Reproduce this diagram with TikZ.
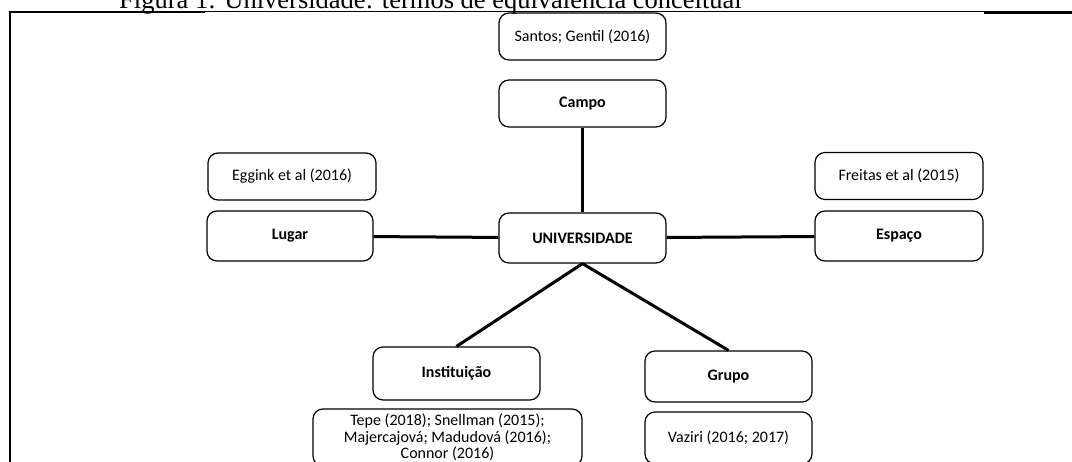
\documentclass[tikz,border=0pt]{standalone}
\usepackage{fontspec}
\setmainfont{Carlito}
\newfontfamily\titlefont{Liberation Serif}
\usepackage{tikz}

\tikzset{
  termo/.style={rectangle, rounded corners=10pt, draw, line width=1.2pt, minimum width=167pt, minimum height=50pt, font=\fontsize{16}{19}\selectfont\bfseries},
  autor/.style={rectangle, rounded corners=10pt, draw, line width=1.2pt, minimum width=167pt, minimum height=47pt, font=\fontsize{16}{19}\selectfont, align=center},
  liga/.style={line width=3pt}
}

\begin{document}
\begin{tikzpicture}[x=1pt, y=-1pt]
        \useasboundingbox (0, 0) rectangle (1072, 461);
        \clip (0, 0) rectangle (1072, 461);

        % titulo e moldura
        \node[anchor=base west, inner sep=0pt, font=\titlefont\fontsize{26.5}{30}\selectfont] (titulo) at (119, 8) {Figura 1: Universidade: termos de equivalência conceitual};
        \draw[line width=2pt] (10, 12) -- (205, 12);
        \draw[line width=1pt] (205, 11.5) -- (984, 11.5);
        \draw[line width=3pt] (984, 12) -- (1072, 12);
        \draw[line width=2.5pt] (10, 11) -- (10, 470);

        % termos
        \node[termo, minimum height=47pt] (campo) at (582.5, 103.5) {Campo};
        \node[termo] (univ) at (582.5, 238) {UNIVERSIDADE};
        \node[termo, minimum width=166pt] (lugar) at (290, 236) {Lugar};
        \node[termo, minimum width=168pt] (espaco) at (899, 236) {Espaço};
        \node[termo, minimum height=53pt] (inst) at (456.5, 373.5) {Instituição};
        \node[termo, minimum height=51pt] (grupo) at (728.5, 376.5) {Grupo};

        % autores
        \node[autor] (santos) at (582.5, 36.5) {Santos; Gentil (2016)};
        \node[autor, minimum width=168pt] (eggink) at (292, 176.5) {Eggink et al (2016)};
        \node[autor, minimum width=168pt] (freitas) at (899, 176) {Freitas et al (2015)};
        \node[autor, minimum width=269pt, minimum height=57pt, font=\fontsize{16}{16.5}\selectfont] (tepe) at (447.5, 437.5) {Tepe (2018); Snellman (2015);\\ Majercajová; Madudová (2016);\\ Connor (2016)};
        \node[autor, minimum height=52pt] (vaziri) at (728.5, 438) {Vaziri (2016; 2017)};

        \draw[liga] (campo) -- (univ);
        \draw[liga] (lugar) -- (univ);
        \draw[liga] (univ) -- (espaco);
        \draw[liga] (univ.south) -- (inst.north);
        \draw[liga] (univ.south) -- (grupo.north);
    \end{tikzpicture}
\end{document}
